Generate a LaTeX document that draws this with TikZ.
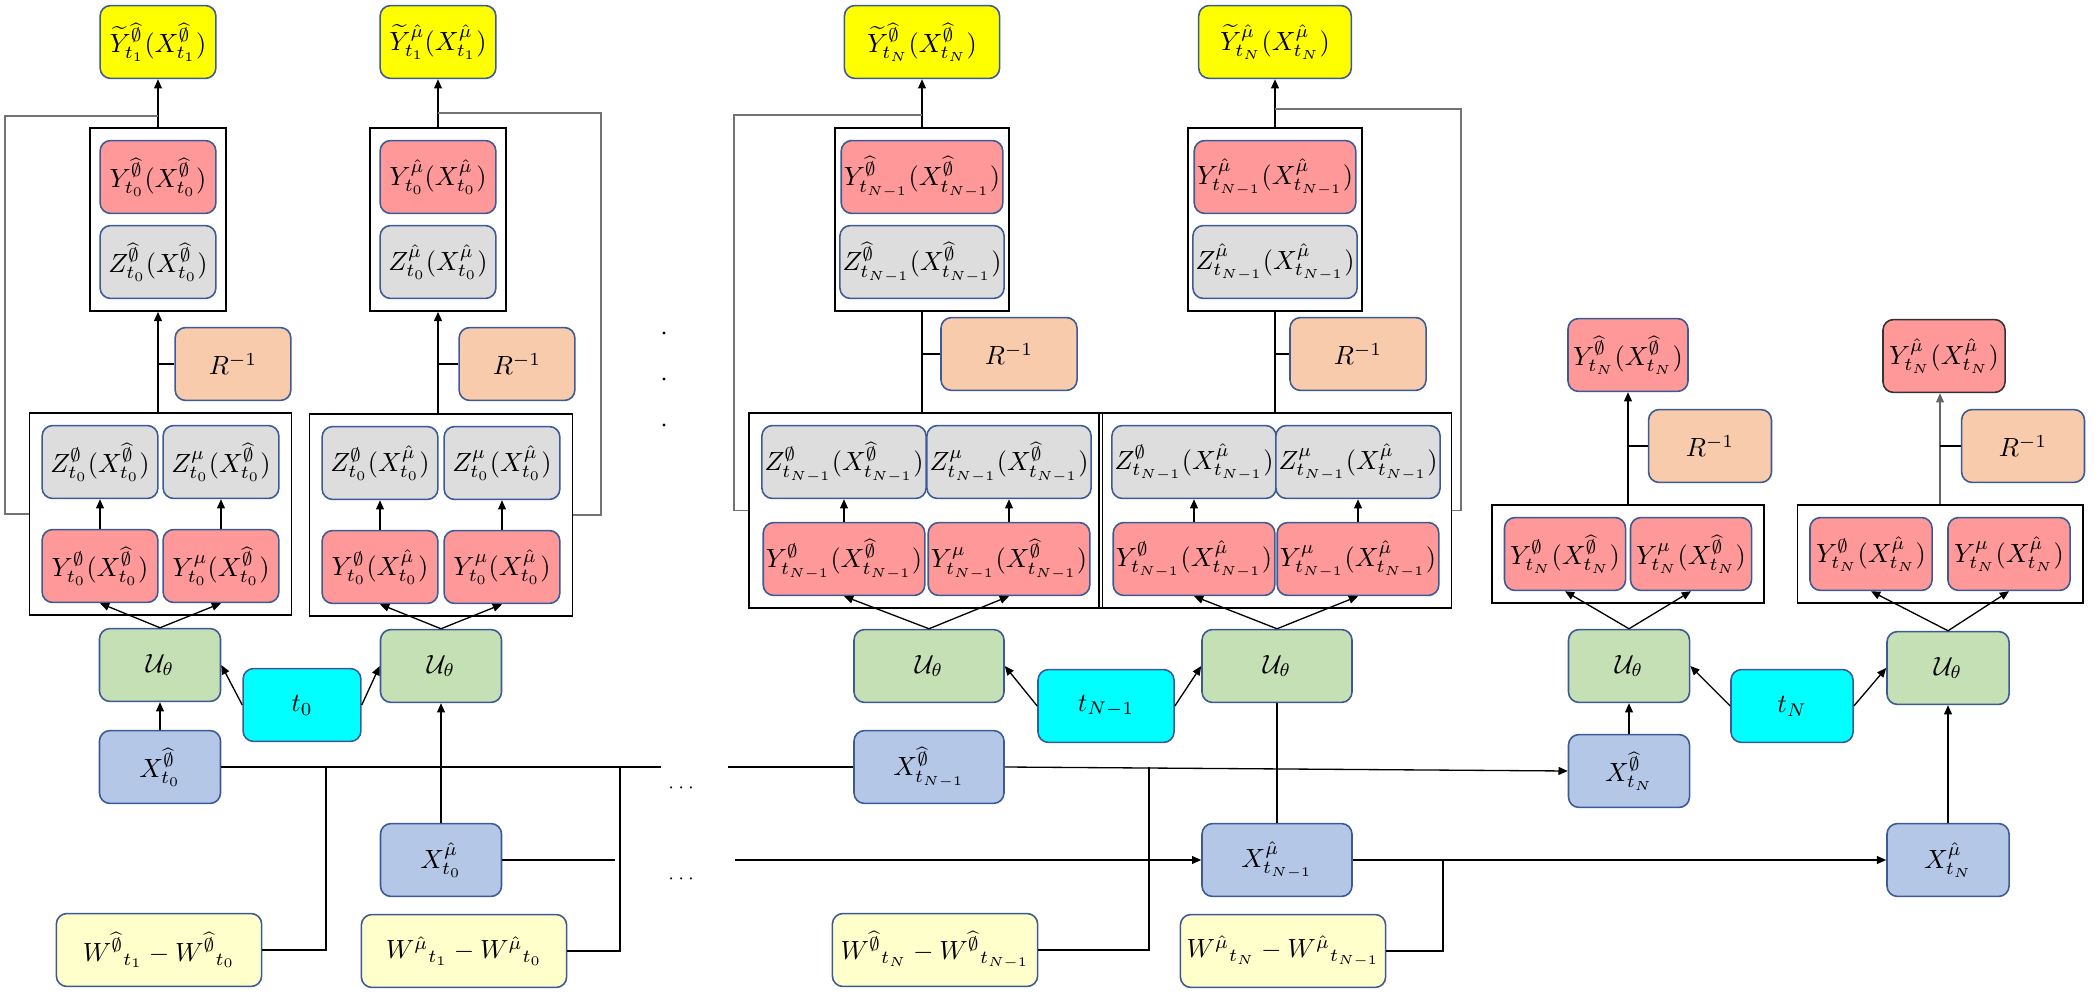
\documentclass[tikz,border=0pt]{standalone}
\usepackage{amsmath,amssymb}
\usetikzlibrary{arrows.meta, fit}

\definecolor{boxline}{RGB}{60,90,150}
\definecolor{outyellow}{RGB}{255,255,0}
\definecolor{ypink}{RGB}{255,153,153}
\definecolor{zgray}{RGB}{221,221,221}
\definecolor{rpeach}{RGB}{248,203,173}
\definecolor{ugreen}{RGB}{197,224,180}
\definecolor{tcyan}{RGB}{0,255,255}
\definecolor{xblue}{RGB}{180,199,231}
\definecolor{wcream}{RGB}{255,255,204}

\newcommand{\hphi}{\widehat{\emptyset}}
\newcommand{\hmu}{\hat{\mu}}

\begin{document}
\begin{tikzpicture}[
  x=0.38pt, y=-0.38pt,
  every node/.style={font=\normalsize},
  cell/.style={rectangle, draw=boxline, line width=0.6pt, rounded corners=4pt, minimum width=44pt, minimum height=27.7pt, inner sep=1pt, align=center},
  outbox/.style={cell, fill=outyellow},
  ybox/.style={cell, fill=ypink},
  zbox/.style={cell, fill=zgray},
  rbox/.style={cell, fill=rpeach},
  ubox/.style={cell, fill=ugreen},
  tbox/.style={cell, fill=tcyan},
  xbox/.style={cell, fill=xblue},
  wbox/.style={cell, fill=wcream, minimum width=78pt},
  groupframe/.style={rectangle, draw, line width=0.6pt, inner sep=4.5pt},
  smalldot/.style={circle, fill, inner sep=0pt, minimum size=1.2pt},
  arrow/.style={-{Triangle[length=3.5pt, width=3pt]}, line width=0.5pt},
  link/.style={line width=0.5pt},
  feedback/.style={draw=black!55, line width=0.6pt}
]
\useasboundingbox (0,0) rectangle (2097,1001);

% t_0, hat-emptyset branch
\node[outbox] (YtA) at (158,42) {$\widetilde{Y}^{\hphi}_{t_1}(X^{\hphi}_{t_1})$};
\node[ybox] (YA) at (158,177) {$Y^{\hphi}_{t_0}(X^{\hphi}_{t_0})$};
\node[zbox] (ZA) at (158,262) {$Z^{\hphi}_{t_0}(X^{\hphi}_{t_0})$};
\node[groupframe, inner xsep=3.5pt, fit=(YA)(ZA)] (fUA) {};
\node[rbox] (RA) at (233,364) {$R^{-1}$};
\node[zbox] (ZpA) at (100,462) {$Z^{\emptyset}_{t_0}(X^{\hphi}_{t_0})$};
\node[zbox] (ZmA) at (221,462) {$Z^{\mu}_{t_0}(X^{\hphi}_{t_0})$};
\node[ybox] (YpA) at (100,566) {$Y^{\emptyset}_{t_0}(X^{\hphi}_{t_0})$};
\node[ybox] (YmA) at (221,566) {$Y^{\mu}_{t_0}(X^{\hphi}_{t_0})$};
\node[groupframe, fit=(ZpA)(YmA)] (fLA) {};
\node[ubox, minimum width=46pt] (UA) at (160,665) {$\mathcal{U}_\theta$};
\node[xbox, minimum width=46pt] (XA) at (160,767) {$X^{\hphi}_{t_0}$};
\node[wbox] (WA) at (159,950) {$W^{\hphi}{}_{t_1}-W^{\hphi}{}_{t_0}$};

\node[tbox, minimum width=44.8pt] (tA) at (302,705) {$t_0$};

% t_0, hat-mu branch
\node[outbox] (YtB) at (438,42) {$\widetilde{Y}^{\hmu}_{t_1}(X^{\hmu}_{t_1})$};
\node[ybox] (YB) at (438,177) {$Y^{\hmu}_{t_0}(X^{\hmu}_{t_0})$};
\node[zbox] (ZB) at (438,262) {$Z^{\hmu}_{t_0}(X^{\hmu}_{t_0})$};
\node[groupframe, inner xsep=3.5pt, fit=(YB)(ZB)] (fUB) {};
\node[rbox] (RB) at (517,364) {$R^{-1}$};
\node[zbox] (ZpB) at (380,463) {$Z^{\emptyset}_{t_0}(X^{\hmu}_{t_0})$};
\node[zbox] (ZmB) at (502,463) {$Z^{\mu}_{t_0}(X^{\hmu}_{t_0})$};
\node[ybox] (YpB) at (380,567) {$Y^{\emptyset}_{t_0}(X^{\hmu}_{t_0})$};
\node[ybox] (YmB) at (502,567) {$Y^{\mu}_{t_0}(X^{\hmu}_{t_0})$};
\node[groupframe, fit=(ZpB)(YmB)] (fLB) {};
\node[ubox, minimum width=46pt] (UB) at (441,666) {$\mathcal{U}_\theta$};
\node[xbox, minimum width=46pt] (XB) at (441,860) {$X^{\hmu}_{t_0}$};
\node[wbox] (WB) at (464,951) {$W^{\hmu}{}_{t_1}-W^{\hmu}{}_{t_0}$};

% t_{N-1}, hat-emptyset branch
\node[outbox, minimum width=59pt] (YtC) at (922,42) {$\widetilde{Y}^{\hphi}_{t_N}(X^{\hphi}_{t_N})$};
\node[ybox, minimum width=59pt] (YC) at (922,177) {$Y^{\hphi}_{t_{N-1}}(X^{\hphi}_{t_{N-1}})$};
\node[zbox, minimum width=59pt] (ZC) at (922,262) {$Z^{\hphi}_{t_{N-1}}(X^{\hphi}_{t_{N-1}})$};
\node[groupframe, inner xsep=1.5pt, fit=(YC)(ZC)] (fUC) {};
\node[rbox, minimum width=51.7pt] (RC) at (1009,354) {$R^{-1}$};
\node[zbox, minimum width=59pt] (ZpC) at (844,462) {$Z^{\emptyset}_{t_{N-1}}(X^{\hphi}_{t_{N-1}})$};
\node[zbox, minimum width=59pt] (ZmC) at (1009,462) {$Z^{\mu}_{t_{N-1}}(X^{\hphi}_{t_{N-1}})$};
\node[ybox, minimum width=59pt] (YpC) at (844,559) {$Y^{\emptyset}_{t_{N-1}}(X^{\hphi}_{t_{N-1}})$};
\node[ybox, minimum width=59pt] (YmC) at (1009,559) {$Y^{\mu}_{t_{N-1}}(X^{\hphi}_{t_{N-1}})$};
\node[groupframe, fit=(ZpC)(YmC)] (fLC) {};
\node[ubox, minimum width=57pt] (UC) at (929,666) {$\mathcal{U}_\theta$};
\node[xbox, minimum width=57pt] (XC) at (929,767) {$X^{\hphi}_{t_{N-1}}$};
\node[wbox] (WC) at (935,950) {$W^{\hphi}{}_{t_N}-W^{\hphi}{}_{t_{N-1}}$};

\node[tbox, minimum width=51.7pt] (tC) at (1106,706) {$t_{N-1}$};

% t_{N-1}, hat-mu branch
\node[outbox, minimum width=58pt] (YtD) at (1275,42) {$\widetilde{Y}^{\hmu}_{t_N}(X^{\hmu}_{t_N})$};
\node[ybox, minimum width=59pt] (YD) at (1275,177) {$Y^{\hmu}_{t_{N-1}}(X^{\hmu}_{t_{N-1}})$};
\node[zbox, minimum width=59pt] (ZD) at (1275,262) {$Z^{\hmu}_{t_{N-1}}(X^{\hmu}_{t_{N-1}})$};
\node[groupframe, inner xsep=1.5pt, fit=(YD)(ZD)] (fUD) {};
\node[rbox, minimum width=51.7pt] (RD) at (1358,354) {$R^{-1}$};
\node[zbox, minimum width=59pt] (ZpD) at (1194,462) {$Z^{\emptyset}_{t_{N-1}}(X^{\hmu}_{t_{N-1}})$};
\node[zbox, minimum width=59pt] (ZmD) at (1358,462) {$Z^{\mu}_{t_{N-1}}(X^{\hmu}_{t_{N-1}})$};
\node[ybox, minimum width=59pt] (YpD) at (1194,559) {$Y^{\emptyset}_{t_{N-1}}(X^{\hmu}_{t_{N-1}})$};
\node[ybox, minimum width=59pt] (YmD) at (1358,559) {$Y^{\mu}_{t_{N-1}}(X^{\hmu}_{t_{N-1}})$};
\node[groupframe, fit=(ZpD)(YmD)] (fLD) {};
\node[ubox, minimum width=57pt] (UD) at (1277,666) {$\mathcal{U}_\theta$};
\node[xbox, minimum width=57pt] (XD) at (1277,860) {$X^{\hmu}_{t_{N-1}}$};
\node[wbox] (WD) at (1283,951) {$W^{\hmu}{}_{t_N}-W^{\hmu}{}_{t_{N-1}}$};

% t_N, hat-emptyset branch
\node[ybox, minimum width=45.6pt] (YtE) at (1628,355) {$Y^{\hphi}_{t_N}(X^{\hphi}_{t_N})$};
\node[rbox, minimum width=46.7pt] (RE) at (1710,446) {$R^{-1}$};
\node[ybox, minimum width=46pt] (YpE) at (1565,554) {$Y^{\emptyset}_{t_N}(X^{\hphi}_{t_N})$};
\node[ybox, minimum width=46pt] (YmE) at (1691,554) {$Y^{\mu}_{t_N}(X^{\hphi}_{t_N})$};
\node[groupframe, fit=(YpE)(YmE)] (fE) {};
\node[ubox, minimum width=46pt] (UE) at (1629,666) {$\mathcal{U}_\theta$};
\node[xbox, minimum width=46pt] (XE) at (1629,771) {$X^{\hphi}_{t_N}$};

\node[tbox, minimum width=46.4pt] (tE) at (1792,706) {$t_N$};

% t_N, hat-mu branch
\node[ybox, draw=black!80, minimum width=46.4pt] (YtF) at (1944,356) {$Y^{\hmu}_{t_N}(X^{\hmu}_{t_N})$};
\node[rbox, minimum width=46.7pt] (RF) at (2023,446) {$R^{-1}$};
\node[ybox, minimum width=46.4pt] (YpF) at (1871,554) {$Y^{\emptyset}_{t_N}(X^{\hmu}_{t_N})$};
\node[ybox, minimum width=46.4pt] (YmF) at (2009,554) {$Y^{\mu}_{t_N}(X^{\hmu}_{t_N})$};
\node[groupframe, fit=(YpF)(YmF)] (fF) {};
\node[ubox, minimum width=46.4pt] (UF) at (1948,668) {$\mathcal{U}_\theta$};
\node[xbox, minimum width=46.4pt] (XF) at (1948,860) {$X^{\hmu}_{t_N}$};

% Dots between t_0 and t_{N-1}
\node[smalldot] (vd1) at (664,333) {};
\node[smalldot] (vd2) at (664,379) {};
\node[smalldot] (vd3) at (664,425) {};
\node (hd1) at (683,788) {\scriptsize$\cdots$};
\node (hd2) at (683,879) {\scriptsize$\cdots$};

% Corners of the lines
\coordinate (jA) at (158,116);
\coordinate (kA) at (5,116);
\coordinate (jB) at (438,113);
\coordinate (kB) at (601,113);
\coordinate (jC) at (922,115);
\coordinate (kC) at (734,115);
\coordinate (jD) at (1275,109);
\coordinate (kD) at (1461,109);
\coordinate (gA) at (661,767);
\coordinate (gB) at (728,767);
\coordinate (hA) at (615,860);
\coordinate (hB) at (735,860);
\coordinate (mA) at (326,767);
\coordinate (mB) at (620,767);
\coordinate (mC) at (1149,767);
\coordinate (mD) at (1443,860);

% Arrows, t_0
\draw[arrow] (fUA.north) -- (YtA.south);
\draw[arrow] (fLA.north -| fUA.south) -- (fUA.south);
\draw[link] (RA.west) -- (RA.west -| fUA.south);
\draw[feedback] (fLA.west) -| (kA) -- (jA);
\draw[arrow] (YpA) -- (ZpA);
\draw[arrow] (YmA) -- (ZmA);
\draw[arrow] (UA.north) -- (YpA.south);
\draw[arrow] (UA.north) -- (YmA.south);
\draw[arrow] (tA.west) -- (UA.east);
\draw[arrow] (XA) -- (UA);

\draw[arrow] (fUB.north) -- (YtB.south);
\draw[arrow] (fLB.north -| fUB.south) -- (fUB.south);
\draw[link] (RB.west) -- (RB.west -| fUB.south);
\draw[feedback] (fLB.east) -| (kB) -- (jB);
\draw[arrow] (YpB) -- (ZpB);
\draw[arrow] (YmB) -- (ZmB);
\draw[arrow] (UB.north) -- (YpB.south);
\draw[arrow] (UB.north) -- (YmB.south);
\draw[arrow] (tA.east) -- (UB.west);
\draw[arrow] (XB) -- (UB);

% Arrows, t_{N-1}
\draw[arrow] (fUC.north) -- (YtC.south);
\draw[link] (fLC.north -| fUC.south) -- (fUC.south);
\draw[link] (RC.west) -- (RC.west -| fUC.south);
\draw[feedback] (fLC.west) -| (kC) -- (jC);
\draw[arrow] (YpC) -- (ZpC);
\draw[arrow] (YmC) -- (ZmC);
\draw[arrow] (UC.north) -- (YpC.south);
\draw[arrow] (UC.north) -- (YmC.south);
\draw[arrow] (tC.west) -- (UC.east);

\draw[arrow] (fUD.north) -- (YtD.south);
\draw[link] (fLD.north -| fUD.south) -- (fUD.south);
\draw[link] (RD.west) -- (RD.west -| fUD.south);
\draw[feedback] (fLD.east) -| (kD) -- (jD);
\draw[arrow] (YpD) -- (ZpD);
\draw[arrow] (YmD) -- (ZmD);
\draw[arrow] (UD.north) -- (YpD.south);
\draw[arrow] (UD.north) -- (YmD.south);
\draw[arrow] (tC.east) -- (UD.west);
\draw[link] (XD) -- (UD);

% Arrows, t_N
\draw[arrow] (fE.north) -- (fE.north |- YtE.south);
\draw[link] (RE.west) -- (RE.west -| fE.north);
\draw[arrow] (UE.north) -- (YpE.south);
\draw[arrow] (UE.north) -- (YmE.south);
\draw[arrow] (tE.west) -- (UE.east);
\draw[arrow] (XE) -- (UE);

\draw[arrow, black!60] (fF.north) -- (fF.north |- YtF.south);
\draw[link] (RF.west) -- (RF.west -| fF.north);
\draw[arrow] (UF.north) -- (YpF.south);
\draw[arrow] (UF.north) -- (YmF.south);
\draw[arrow] (tE.east) -- (UF.west);
\draw[arrow] (XF) -- (UF);

% State lines and increments
\draw[link] (XA.east) -- (gA);
\draw[link] (gB) -- (XC.west);
\draw[arrow] (XC.east) -- (XE.west);
\draw[link] (WA.east) -| (mA);
\draw[link] (WB.east) -| (mB);
\draw[link] (XB.east) -- (hA);
\draw[arrow] (hB) -- (XD.west);
\draw[arrow] (XD.east) -- (XF.west);
\draw[link] (WC.east) -| (mC);
\draw[link] (WD.east) -| (mD);

\end{tikzpicture}
\end{document}
